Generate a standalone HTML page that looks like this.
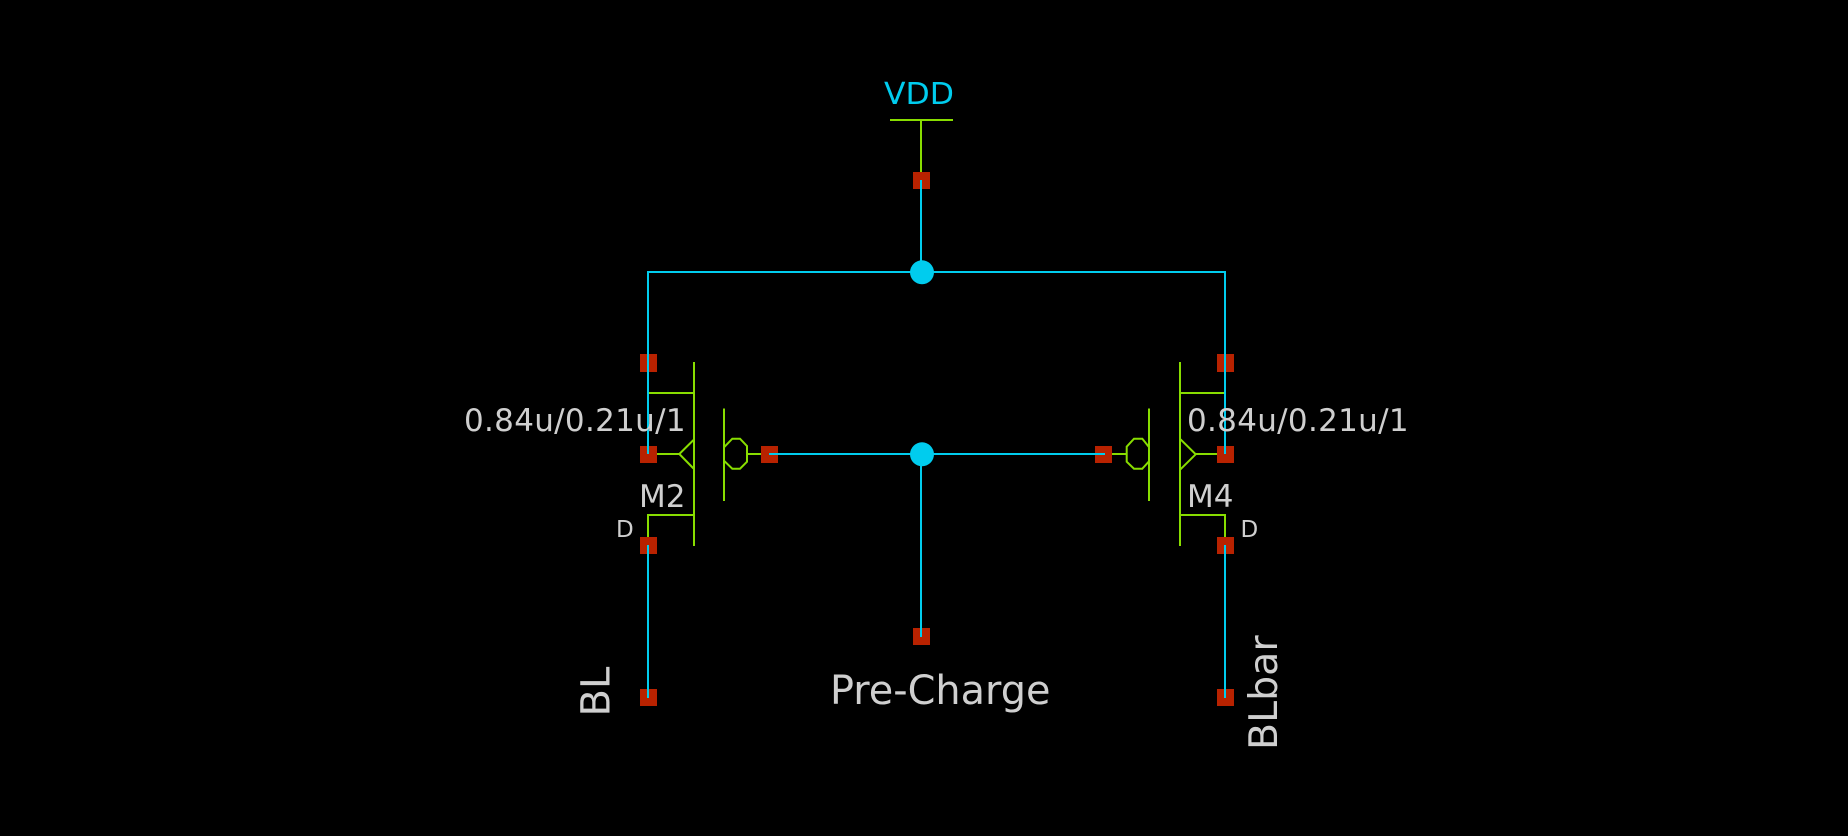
<!DOCTYPE html>
<html>
<head>
<meta charset="utf-8">
<title>Pre-Charge</title>
<style>
html,body{margin:0;padding:0;background:#000;width:1848px;height:836px;overflow:hidden}
svg{display:block}
text{font-family:"DejaVu Sans",sans-serif;fill:#cfcfcf}
</style>
</head>
<body>
<svg width="1848" height="836" viewBox="0 0 1848 836" xmlns="http://www.w3.org/2000/svg">
<rect width="1848" height="836" fill="#000"/>
<!-- pads -->
<g fill="#b82200">
<rect x="913" y="172" width="17" height="17"/>
<rect x="640" y="354" width="17" height="18"/>
<rect x="640" y="446" width="17" height="17"/>
<rect x="640" y="537" width="17" height="17"/>
<rect x="640" y="689" width="17" height="17"/>
<rect x="761" y="446" width="17" height="17"/>
<rect x="1095" y="446" width="17" height="17"/>
<rect x="1217" y="354" width="17" height="18"/>
<rect x="1217" y="446" width="17" height="17"/>
<rect x="1217" y="537" width="17" height="17"/>
<rect x="1217" y="689" width="17" height="17"/>
<rect x="913" y="628" width="17" height="17"/>
</g>
<!-- green symbols -->
<g fill="none" stroke="#88dd00" stroke-width="2">
<path d="M890 120H953M921 120V172" shape-rendering="crispEdges"/>
<path d="M694 362V546M648 393H694M648 515H694M648 514V537M657 454H680" shape-rendering="crispEdges"/>
<path d="M693.500 440L679.300 454L693.500 468.500"/>
<path d="M724 408.500V501M747 454H761" shape-rendering="crispEdges"/>
<path d="M724 447.300L732.300 438.700H740L747 446V461.700L740 468.700H732.300L724 460.700"/>
<path d="M1180 362V546M1180 393H1225M1180 515H1226M1225 514V537M1196 454H1217" shape-rendering="crispEdges"/>
<path d="M1180.500 439.300L1195.700 454.300L1180.500 469.300"/>
<path d="M1149 408.500V501M1112 454H1127" shape-rendering="crispEdges"/>
<path d="M1148.700 446.700L1142.300 438.700H1134L1126.700 446.700V461.700L1134 468.700H1142.300L1148.700 461.700"/>
</g>
<!-- cyan wires -->
<g fill="none" stroke="#00ccee" stroke-width="2" shape-rendering="crispEdges">
<path d="M921 180V272M648 272H1225M648 271V454M1225 271V454"/>
<path d="M769 454H1105M921 454V637"/>
<path d="M648 545V698M1225 545V698"/>
</g>
<circle cx="922" cy="272.300" r="12" fill="#00ccee"/>
<circle cx="922" cy="454.300" r="12" fill="#00ccee"/>
<!-- labels -->
<text x="884" y="104" font-size="30" style="fill:#00ccee" textLength="70" lengthAdjust="spacingAndGlyphs">VDD</text>
<text x="464" y="431" font-size="31" letter-spacing="0.3">0.84u/0.21u/1</text>
<text x="1187" y="431" font-size="31" letter-spacing="0.3">0.84u/0.21u/1</text>
<text x="639" y="507" font-size="31">M2</text>
<text x="1187" y="507" font-size="31">M4</text>
<text x="616" y="537" font-size="23">D</text>
<text x="1240.500" y="537" font-size="23">D</text>
<text x="830" y="704" font-size="39.800">Pre-Charge</text>
<text transform="translate(609.500 716.500) rotate(-90)" font-size="40">BL</text>
<text transform="translate(1277 750) rotate(-90)" font-size="39.500">BLbar</text>
</svg>
</body>
</html>
